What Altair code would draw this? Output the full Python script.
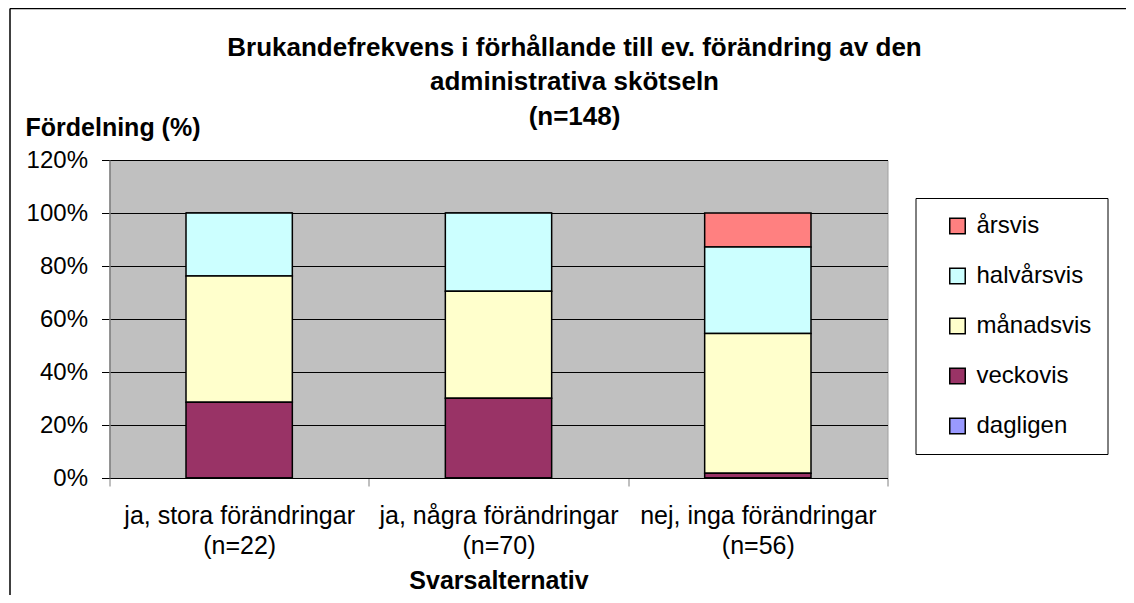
import altair as alt
import pandas as pd

# ---- data (percent of respondents) ----
categories = ["ja, stora förändringar", "ja, några förändringar", "nej, inga förändringar"]
n_values = [22, 70, 56]
series = ["årsvis", "halvårsvis", "månadsvis", "veckovis", "dagligen"]
arsvis = [0.0, 0.0, 12.8]
halvarsvis = [23.8, 29.5, 32.7]
manadsvis = [47.6, 40.4, 52.7]
veckovis = [28.6, 30.1, 1.8]
dagligen = [0.0, 0.0, 0.0]
colors = ["#FF8080", "#CCFFFF", "#FFFFCC", "#993366", "#9999FF"]
y_ticks = [0, 20, 40, 60, 80, 100, 120]

values_by_series = {
    "årsvis": arsvis,
    "halvårsvis": halvarsvis,
    "månadsvis": manadsvis,
    "veckovis": veckovis,
    "dagligen": dagligen,
}

rows = []
for s_idx, s in enumerate(series):
    for c_idx, c in enumerate(categories):
        rows.append({
            "kategori": f"{c}\n(n={n_values[c_idx]})",
            "serie": s,
            "andel": values_by_series[s][c_idx],
            "ordning": len(series) - 1 - s_idx,
        })
df = pd.DataFrame(rows)
cat_labels = [f"{c}\n(n={n})" for c, n in zip(categories, n_values)]

FONT = "Liberation Sans"
W, H = 778, 318
PAD = {"left": 101.5, "top": 152, "right": 238.5, "bottom": 117}

bars = alt.Chart(df).mark_bar(
    stroke="black", strokeWidth=1.5, width=alt.RelativeBandSize(0.41)
).encode(
    x=alt.X(
        "kategori:N",
        sort=cat_labels,
        scale=alt.Scale(paddingInner=0, paddingOuter=0),
        axis=alt.Axis(
            title="Svarsalternativ",
            titleFont=FONT, titleFontSize=25, titleFontWeight="bold", titleColor="black",
            titleY=110, titleBaseline="alphabetic",
            labelExpr="split(datum.label, '\\n')",
            labelAngle=0, labelFont=FONT, labelFontSize=25, labelColor="black",
            labelLineHeight=30, labelPadding=17, labelBaseline="top", labelLimit=400,
            tickBand="extent", tickSize=8, tickColor="#808080",
            domainColor="black", domainWidth=1,
            grid=False,
        ),
    ),
    y=alt.Y(
        "andel:Q",
        stack="zero",
        scale=alt.Scale(domain=[0, 120], nice=False),
        axis=alt.Axis(
            title="Fördelning (%)",
            titleAngle=0, titleAlign="left", titleBaseline="middle",
            titleX=-84.5, titleY=-33,
            titleFont=FONT, titleFontSize=25, titleFontWeight="bold", titleColor="black",
            values=y_ticks,
            labelExpr="datum.value + '%'",
            labelFont=FONT, labelFontSize=24, labelColor="black", labelPadding=14,
            tickSize=8, tickColor="black",
            domainColor="#808080", domainWidth=1.5,
            grid=True, gridColor="black", gridWidth=1,
        ),
    ),
    color=alt.Color(
        "serie:N",
        scale=alt.Scale(domain=series, range=colors),
        legend=alt.Legend(
            title=None, orient="none", legendX=806, legendY=38,
            padding=16, strokeColor="black", fillColor="white",
            symbolType="square", symbolSize=240, symbolStrokeColor="black",
            symbolStrokeWidth=1.5, symbolOpacity=1, symbolOffset=14,
            labelFont=FONT, labelFontSize=24, labelColor="black", labelOffset=7,
            rowPadding=26, labelLimit=300,
        ),
    ),
    order=alt.Order("ordning:Q", sort="ascending"),
)

frame_df = pd.DataFrame({"a": [0]})
top_line = alt.Chart(frame_df).mark_rule(color="black", strokeWidth=1.5).encode(
    x=alt.value(-99.5), x2=alt.value(W + PAD["right"]), y=alt.value(-151.5)
)
left_line = alt.Chart(frame_df).mark_rule(color="black", strokeWidth=1.5).encode(
    x=alt.value(-99.5), y=alt.value(-151.5), y2=alt.value(H + PAD["bottom"])
)

chart = alt.layer(bars, top_line, left_line).properties(
    width=W, height=H,
    autosize=alt.AutoSizeParams(type="none"),
    padding=PAD,
    background="white",
    title=alt.TitleParams(
        text=["Brukandefrekvens i förhållande till ev. förändring av den",
              "administrativa skötseln", "(n=148)"],
        font=FONT, fontSize=26, fontWeight="bold", color="black",
        anchor="middle", dx=76, dy=122, offset=0, lineHeight=34.5,
        baseline="top",
    ),
).configure_view(
    fill="#C0C0C0", stroke="#A0A0A0", strokeWidth=1
)

chart.save("out.html", embed_options={"renderer": "svg", "actions": False})
